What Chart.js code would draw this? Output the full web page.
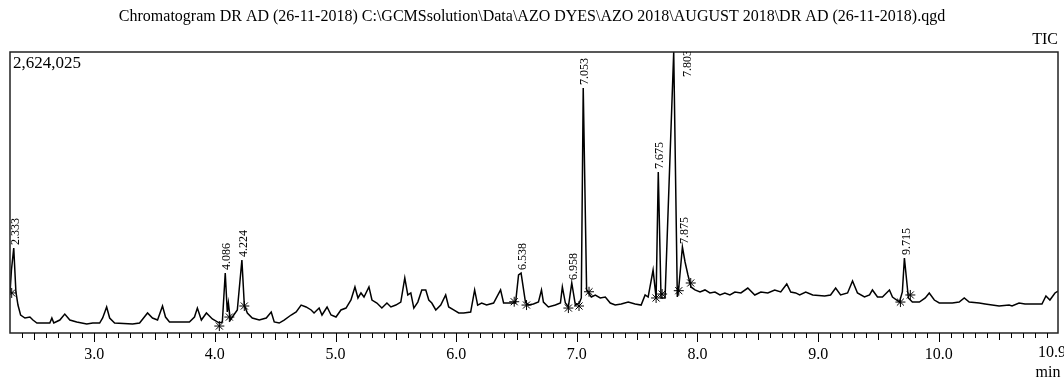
<!DOCTYPE html>
<html>
<head>
<meta charset="utf-8">
<script src="https://cdn.jsdelivr.net/npm/chart.js@4/dist/chart.umd.min.js"></script>
<style>
  html, body { margin: 0; padding: 0; background: #fff; }
</style>
</head>
<body>
<canvas id="ticChart" width="1064" height="382"></canvas>
<script>
// TIC chromatogram, DR AD (26-11-2018)
// intensity values are in thousands of counts, full scale = 2,624,025

const chart_title = 'Chromatogram DR AD (26-11-2018) C:\\GCMSsolution\\Data\\AZO DYES\\AZO 2018\\AUGUST 2018\\DR AD (26-11-2018).qgd'
const full_scale_label = '2,624,025'
const full_scale_k = 2624.025

const retention_times = [
  2.302, 2.314, 2.333, 2.351, 2.368, 2.390, 2.426, 2.467, 2.492, 2.525, 2.632, 2.649, 2.665, 2.715, 2.756, 2.798,
  2.855, 2.938, 2.988, 3.045, 3.070, 3.103, 3.128, 3.169, 3.318, 3.376, 3.409, 3.442, 3.483, 3.525, 3.566, 3.591,
  3.624, 3.707, 3.789, 3.831, 3.855, 3.888, 3.930, 3.979, 4.037, 4.062, 4.086, 4.103, 4.112, 4.128, 4.145, 4.186,
  4.224, 4.244, 4.269, 4.310, 4.368, 4.426, 4.467, 4.492, 4.533, 4.574, 4.632, 4.674, 4.715, 4.756, 4.798, 4.822,
  4.864, 4.888, 4.930, 4.963, 5.004, 5.045, 5.087, 5.128, 5.161, 5.186, 5.211, 5.236, 5.277, 5.302, 5.343, 5.384,
  5.426, 5.459, 5.500, 5.541, 5.574, 5.599, 5.624, 5.649, 5.682, 5.715, 5.748, 5.773, 5.798, 5.831, 5.872, 5.913,
  5.938, 5.979, 6.021, 6.062, 6.120, 6.153, 6.178, 6.211, 6.252, 6.310, 6.368, 6.393, 6.450, 6.492, 6.517, 6.538,
  6.574, 6.599, 6.640, 6.682, 6.707, 6.723, 6.764, 6.822, 6.864, 6.880, 6.905, 6.930, 6.958, 6.988, 7.021, 7.037,
  7.053, 7.081, 7.120, 7.153, 7.194, 7.236, 7.277, 7.318, 7.368, 7.426, 7.483, 7.533, 7.566, 7.591, 7.632, 7.657,
  7.675, 7.698, 7.731, 7.803, 7.833, 7.847, 7.875, 7.897, 7.921, 7.946, 7.979, 8.021, 8.062, 8.103, 8.145, 8.186,
  8.227, 8.269, 8.310, 8.360, 8.417, 8.475, 8.525, 8.583, 8.640, 8.690, 8.740, 8.773, 8.814, 8.847, 8.897, 8.955,
  9.054, 9.103, 9.145, 9.186, 9.244, 9.285, 9.326, 9.384, 9.426, 9.450, 9.492, 9.533, 9.591, 9.616, 9.674, 9.698,
  9.715, 9.748, 9.781, 9.839, 9.888, 9.921, 9.963, 10.004, 10.112, 10.169, 10.211, 10.252, 10.335, 10.384, 10.500, 10.583,
  10.607, 10.665, 10.715, 10.855, 10.888, 10.921, 10.963, 10.988
]

const intensity_k = [
  374, 588, 794, 383, 261, 168, 140, 149, 121, 93, 93, 140, 93, 121, 177, 121,
  103, 84, 93, 93, 140, 243, 140, 93, 84, 93, 140, 187, 140, 121, 252, 149,
  103, 103, 103, 149, 233, 121, 187, 131, 93, 103, 560, 196, 280, 121, 149, 215,
  682, 261, 187, 140, 121, 140, 196, 103, 93, 121, 168, 196, 261, 243, 215, 187,
  233, 168, 243, 168, 149, 215, 233, 308, 430, 327, 374, 336, 430, 308, 280, 233,
  280, 243, 261, 289, 514, 355, 374, 233, 289, 402, 402, 308, 280, 215, 261, 355,
  243, 215, 187, 187, 196, 402, 261, 280, 261, 280, 402, 280, 280, 280, 542, 560,
  289, 261, 271, 289, 402, 289, 243, 261, 280, 430, 280, 243, 467, 261, 280, 327,
  2288, 402, 336, 355, 327, 336, 280, 261, 271, 289, 271, 261, 355, 336, 588, 327,
  1503, 327, 327, 2624, 336, 448, 803, 663, 542, 430, 402, 383, 402, 374, 383, 355,
  374, 355, 383, 374, 420, 355, 383, 374, 402, 383, 458, 383, 374, 355, 383, 355,
  346, 355, 420, 355, 374, 486, 374, 336, 355, 402, 336, 336, 402, 336, 289, 383,
  700, 327, 289, 289, 327, 374, 308, 280, 280, 289, 327, 289, 280, 271, 252, 261,
  252, 280, 271, 271, 346, 308, 374, 392
]

// labelled peak tops
const peak_labels = [2.333, 4.086, 4.224, 6.538, 6.958, 7.053, 7.675, 7.803, 7.875, 9.715]

// integration start / end marks
const marker_times = [2.316, 4.037, 4.120, 4.244, 6.481, 6.583, 6.930, 7.018, 7.101, 7.657, 7.707, 7.845, 7.944, 9.682, 9.764]
const marker_k = [374, 65, 149, 252, 292, 261, 233, 252, 385, 327, 364, 395, 467, 289, 355]

const x_tick_values = [3, 4, 5, 6, 7, 8, 9, 10]
const x_min = 2.302
const x_max = 10.988
const x_end_label = '10.9'

const serif = "'Liberation Serif', 'Times New Roman', serif"

const trace_points = retention_times.map((t, i) => ({ x: t, y: intensity_k[i] }))
const marker_points = marker_times.map((t, i) => ({ x: t, y: marker_k[i] }))

const frame_plugin = {
  id: 'frame',
  afterDraw(chart) {
    const { ctx, chartArea } = chart
    const x = chart.scales.x
    const y = chart.scales.y
    ctx.save()

    // box round the plot
    ctx.strokeStyle = '#222'
    ctx.lineWidth = 1.5
    ctx.strokeRect(chartArea.left, chartArea.top, chartArea.right - chartArea.left, chartArea.bottom - chartArea.top)

    // tick marks every 0.1 min
    ctx.lineWidth = 1
    ctx.strokeStyle = '#000'
    for (let i = 23; i <= 109; i++) {
      const v = i / 10
      if (v < x_min || v > x_max) continue
      const px = Math.round(x.getPixelForValue(v)) + 0.5
      const len = i % 10 === 0 ? 9 : (i % 5 === 0 ? 7 : 5)
      ctx.beginPath()
      ctx.moveTo(px, chartArea.bottom)
      ctx.lineTo(px, chartArea.bottom + len)
      ctx.stroke()
    }

    // texts
    ctx.fillStyle = '#000'
    ctx.font = `16px ${serif}`
    ctx.textAlign = 'center'
    ctx.textBaseline = 'middle'
    ctx.fillText(chart_title, 532, 17)

    ctx.font = `17px ${serif}`
    ctx.textAlign = 'left'
    ctx.fillText(full_scale_label, chartArea.left + 3, chartArea.top + 12)

    ctx.font = `16px ${serif}`
    ctx.textAlign = 'right'
    ctx.fillText('TIC', chartArea.right, chartArea.top - 12)

    ctx.textAlign = 'center'
    ctx.fillText(x_end_label, x.getPixelForValue(x_max) - 6, chartArea.bottom + 20)
    ctx.fillText('min', x.getPixelForValue(x_max) - 10, chartArea.bottom + 40)

    // peak labels, rotated
    ctx.font = `12px ${serif}`
    ctx.beginPath()
    ctx.rect(chartArea.left, chartArea.top, chartArea.right - chartArea.left, chartArea.bottom - chartArea.top)
    ctx.clip()
    peak_labels.forEach(t => {
      const idx = retention_times.indexOf(t)
      const label = t.toFixed(3)
      const w = ctx.measureText(label).width
      let px = x.getPixelForValue(t) + 2
      let py = y.getPixelForValue(intensity_k[idx]) - 3
      if (py - w < chartArea.top) {
        px = x.getPixelForValue(t) + 14
        py = chartArea.top + w - 2
      }
      ctx.save()
      ctx.translate(px, py)
      ctx.rotate(-Math.PI / 2)
      ctx.textAlign = 'left'
      ctx.textBaseline = 'middle'
      ctx.fillText(label, 0, 0)
      ctx.restore()
    })
    ctx.restore()
  }
}

const ctx = document.getElementById('ticChart').getContext('2d')

const chart = new Chart(ctx, {
  type: 'line',
  data: {
    datasets: [
      {
        label: 'TIC',
        data: trace_points,
        borderColor: '#000',
        borderWidth: 1.5,
        pointRadius: 0,
        tension: 0,
        fill: false
      },
      {
        label: 'Integration marks',
        data: marker_points,
        showLine: false,
        pointStyle: 'star',
        pointRadius: 5,
        borderColor: '#000',
        backgroundColor: '#000',
        borderWidth: 1
      }
    ]
  },
  options: {
    responsive: false,
    animation: false,
    layout: {
      padding: { top: 52, left: 10, right: 3, bottom: 0 }
    },
    plugins: {
      legend: { display: false },
      tooltip: { enabled: false },
      title: { display: false }
    },
    scales: {
      x: {
        type: 'linear',
        min: x_min,
        max: x_max,
        afterBuildTicks: scale => {
          scale.ticks = x_tick_values.map(v => ({ value: v }))
        },
        afterFit: scale => {
          scale.height = 49
        },
        ticks: {
          callback: value => value.toFixed(1),
          font: { family: serif, size: 16 },
          color: '#000',
          padding: 12,
          maxRotation: 0,
          autoSkip: false
        },
        grid: { display: false, drawTicks: false },
        border: { display: false }
      },
      y: {
        display: false,
        min: 0,
        max: full_scale_k
      }
    }
  },
  plugins: [frame_plugin]
})
</script>
</body>
</html>
